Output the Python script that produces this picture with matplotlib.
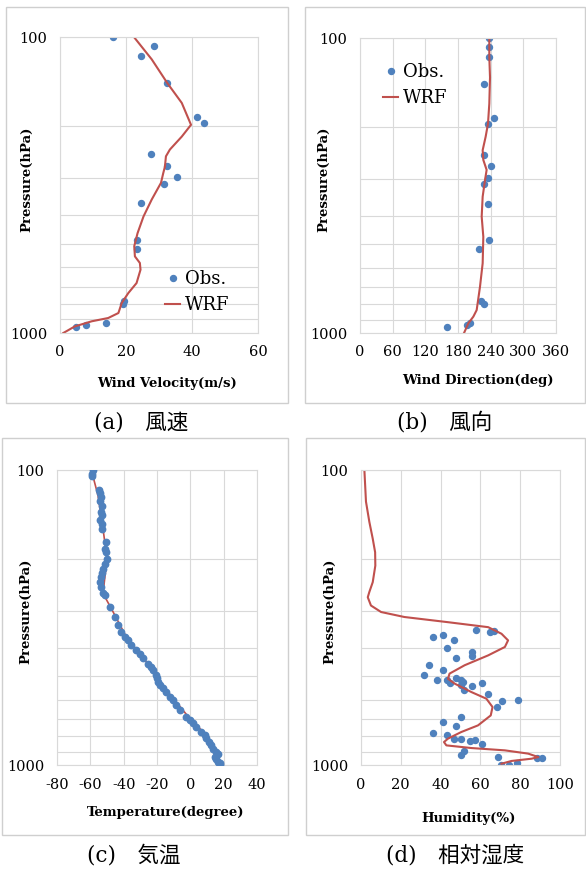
import matplotlib
matplotlib.use("Agg")
import matplotlib.pyplot as plt
from matplotlib.patches import Rectangle
from matplotlib.ticker import NullFormatter

# ---- (a)/(b) wind, observation levels shared by both panels
wind_obs_p = [100, 107, 116, 143, 186, 195, 249, 272, 298, 313, 365, 484, 521, 780, 797, 923, 941, 956]
wind_obs_spd = [16.0, 28.5, 24.4, 32.5, 41.6, 43.6, 27.5, 32.5, 35.6, 31.5, 24.4, 23.4, 23.4,
                19.4, 19.0, 13.9, 7.9, 4.8]
wind_obs_dir = [237.5, 236.3, 236.3, 227.7, 246.1, 235.1, 227.1, 240.6, 235.7, 227.7, 235.1,
                236.3, 219.2, 221.6, 227.7, 202.6, 197.1, 159.8]

wrf_spd_p = [100, 119, 143, 167, 198, 217, 240, 253, 274, 288, 311, 354, 404, 460, 509, 551,
             580, 611, 678, 733, 792, 856, 890, 913, 950, 1000]
wrf_spd = [22.4, 27.8, 32.5, 36.9, 39.7, 36.9, 33.3, 32.1, 31.8, 31.3, 30.6, 27.8, 25.3, 23.5,
           22.5, 22.7, 24.2, 24.4, 23.2, 20.7, 18.7, 17.7, 14.6, 9.6, 4.5, 1.0]

wrf_dir_p = [100, 116, 136, 167, 195, 216, 240, 259, 280, 303, 345, 403, 472, 580, 697, 836,
             880, 927, 995, 1000]
wrf_dir = [237.5, 237.5, 238.8, 237.5, 235.1, 230.8, 225.3, 226.5, 232.6, 229.6, 225.3, 223.5,
           226.5, 225.3, 220.4, 214.3, 208.2, 199.0, 191.6, 191.0]

# ---- (c) temperature
temp_obs_p = [100, 103, 105, 117, 120, 123, 127, 132, 139, 142, 148, 152, 158, 175, 185, 190,
              200, 208, 216, 224, 230, 239, 249, 262, 266, 291, 315, 336, 354, 368, 377, 392,
              408, 422, 435, 453, 465, 477, 496, 509, 522, 536, 550, 565, 587, 602, 626, 651,
              686, 704, 723, 742, 771, 792, 812, 834, 856, 883, 901, 920, 937, 957, 974, 987, 1000]
temp_obs = [-58.4, -59.0, -58.8, -54.8, -54.4, -53.4, -54.4, -52.8, -53.4, -52.8, -54.0, -53.0,
            -52.8, -50.4, -51.4, -50.4, -50.0, -51.4, -52.4, -52.8, -53.4, -54.4, -53.4, -52.4,
            -51.4, -48.4, -45.4, -43.4, -41.4, -39.4, -37.4, -35.4, -32.4, -30.4, -28.4, -25.4,
            -23.4, -22.4, -20.8, -20.0, -19.4, -18.4, -16.4, -14.4, -12.4, -10.4, -8.4, -6.0,
            -2.4, -0.4, 1.6, 3.6, 6.6, 8.6, 9.6, 11.2, 12.6, 13.6, 15.6, 16.6, 14.6, 15.2, 16.6,
            18.0, 17.6]
wrf_temp_p = [100, 122, 158, 200, 262, 295, 368, 447, 557, 695, 792, 856, 924, 1000]
wrf_temp = [-59.4, -55.4, -52.4, -50.0, -52.4, -47.4, -38.4, -26.4, -14.4, -0.4, 9.6, 13.6,
            14.6, 19.6]

# ---- (d) relative humidity
rh_obs_p = [348, 354, 350, 368, 362, 378, 400, 414, 427, 433, 459, 478, 497, 516, 516, 526,
            507, 516, 523, 537, 556, 540, 529, 575, 608, 601, 636, 688, 715, 740, 779, 793,
            818, 814, 831, 825, 847, 899, 923, 940, 947, 947, 998, 998, 987]
rh_obs = [58.0, 64.7, 66.9, 36.1, 41.2, 46.6, 43.4, 55.8, 55.8, 47.6, 34.1, 41.2, 31.9, 38.2,
          43.4, 44.5, 47.6, 50.1, 51.3, 50.1, 51.8, 55.8, 60.8, 63.9, 71.1, 79.0, 68.1, 50.4,
          41.2, 47.6, 36.1, 43.4, 46.6, 50.4, 54.6, 57.1, 60.8, 51.8, 50.4, 68.9, 88.2, 91.1,
          70.6, 74.3, 78.5]
wrf_rh_p = [100, 128, 150, 171, 190, 211, 240, 259, 270, 288, 303, 315, 328, 341, 359, 378,
            398, 425, 459, 490, 510, 530, 566, 596, 636, 679, 734, 773, 814, 836, 858, 876,
            892, 915, 940, 952, 969, 990]
wrf_rh = [1.7, 2.5, 4.2, 5.9, 7.1, 7.2, 5.9, 4.2, 3.4, 5.0, 10.1, 21.8, 43.7, 63.9, 70.6, 73.9,
          72.3, 63.9, 52.1, 44.5, 43.7, 47.1, 55.5, 63.0, 66.1, 65.2, 58.8, 50.4, 43.7, 41.7,
          42.9, 55.5, 72.3, 84.0, 89.1, 85.7, 75.6, 70.6]

OBS_C = "#4F81BD"
WRF_C = "#C0504D"
GRID_C = "#d9d9d9"
SERIF = "DejaVu Serif"

W, H = 586, 872
fig = plt.figure(figsize=(W / 100, H / 100), dpi=100)


def px_axes(x0, y0, x1, y1):
    return fig.add_axes([x0 / W, 1 - y1 / H, (x1 - x0) / W, (y1 - y0) / H])


def panel_box(x0, y0, x1, y1):
    fig.add_artist(Rectangle((x0 / W, 1 - y1 / H), (x1 - x0) / W, (y1 - y0) / H,
                             transform=fig.transFigure, fill=False, ec="#cfcfcf", lw=1.0))


def setup(ax, xlim, xticks, xlabel, lab_x, lab_y, ylab_x):
    ax.set_yscale("log")
    ax.set_ylim(1000, 100)
    ax.set_yticks([100, 1000])
    ax.set_yticklabels(["100", "1000"])
    ax.set_yticks(range(200, 1000, 100), minor=True)
    ax.yaxis.set_minor_formatter(NullFormatter())
    ax.set_xlim(*xlim)
    ax.set_xticks(xticks)
    ax.set_xticklabels([str(t) for t in xticks])
    ax.grid(which="both", color=GRID_C, lw=0.8)
    ax.set_axisbelow(True)
    for s in ax.spines.values():
        s.set_color(GRID_C)
        s.set_linewidth(0.8)
    ax.tick_params(which="both", length=0, labelsize=10.5)
    ax.tick_params(axis="x", pad=9)
    ax.tick_params(axis="y", pad=9)
    for lab in ax.get_xticklabels() + ax.get_yticklabels():
        lab.set_family(SERIF)
    ax.set_xlabel(xlabel, family=SERIF, fontweight="bold", fontsize=9.5)
    ax.set_ylabel("Pressure(hPa)", family=SERIF, fontweight="bold", fontsize=9.5)
    ax.xaxis.set_label_coords(lab_x, lab_y)
    ax.yaxis.set_label_coords(ylab_x, 0.52)


def add_legend(ax, xpx, ypx):
    ax.legend(loc="center left", bbox_to_anchor=(xpx / W, 1 - ypx / H),
              bbox_transform=fig.transFigure, frameon=False, borderpad=0, borderaxespad=0,
              handlelength=0.85, handletextpad=0.25, labelspacing=0.45,
              prop={"family": SERIF, "size": 13})


# (a) wind velocity
panel_box(6, 7, 288, 403)
ax = px_axes(60, 37, 258, 333)
ax.plot(wind_obs_spd, wind_obs_p, "o", color=OBS_C, ms=4.3, label="Obs.")
ax.plot(wrf_spd, wrf_spd_p, color=WRF_C, lw=1.5, label="WRF")
setup(ax, (0, 60), [0, 20, 40, 60], "Wind Velocity(m/s)", 0.54, -0.15, -0.135)
add_legend(ax, 165, 292)

# (b) wind direction
panel_box(305, 7, 585, 403)
ax = px_axes(360, 38, 556, 333)
ax.plot(wind_obs_dir, wind_obs_p, "o", color=OBS_C, ms=4.3, label="Obs.")
ax.plot(wrf_dir, wrf_dir_p, color=WRF_C, lw=1.5, label="WRF")
setup(ax, (0, 360), [0, 60, 120, 180, 240, 300, 360], "Wind Direction(deg)", 0.60, -0.14, -0.15)
add_legend(ax, 383, 85)

# (c) temperature
panel_box(2, 438, 288, 835)
ax = px_axes(57, 470, 257, 765)
ax.plot(wrf_temp, wrf_temp_p, color=WRF_C, lw=1.2, zorder=2)
ax.plot(temp_obs, temp_obs_p, "o", color=OBS_C, ms=4.6, zorder=3)
setup(ax, (-80, 40), [-80, -60, -40, -20, 0, 20, 40], "Temperature(degree)", 0.545, -0.14, -0.125)

# (d) humidity
panel_box(306, 438, 585, 835)
ax = px_axes(361, 470, 560, 765)
ax.plot(rh_obs, rh_obs_p, "o", color=OBS_C, ms=4.3)
ax.plot(wrf_rh, wrf_rh_p, color=WRF_C, lw=1.5)
setup(ax, (0, 100), [0, 20, 40, 60, 80, 100], "Humidity(%)", 0.54, -0.16, -0.125)

# captions
cap_font = [SERIF, "Noto Sans CJK JP"]
fig.text(141 / W, 1 - 422 / H, "(a)\u3000風速", ha="center", va="center", family=cap_font, fontsize=15.5)
fig.text(445 / W, 1 - 422 / H, "(b)\u3000風向", ha="center", va="center", family=cap_font, fontsize=15.5)
fig.text(134 / W, 1 - 855 / H, "(c)\u3000気温", ha="center", va="center", family=cap_font, fontsize=15.5)
fig.text(455 / W, 1 - 855 / H, "(d)\u3000相対湿度", ha="center", va="center", family=cap_font, fontsize=15.5)

fig.savefig("out.png", dpi=100)
